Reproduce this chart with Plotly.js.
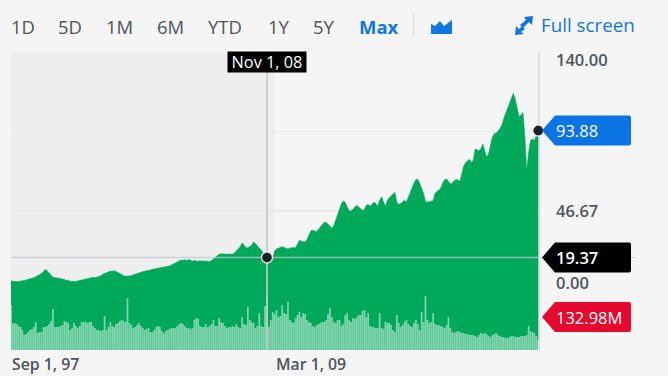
<!DOCTYPE html>
<html><head><meta charset="utf-8">
<script src="https://cdn.plot.ly/plotly-3.0.1.min.js"></script>
<style>html,body{margin:0;padding:0;background:#f5f5f6;overflow:hidden}#c{width:668px;height:376px}</style>
</head><body><div id="c"></div>
<script>
const startYear = 1997, startMonth = 9;
const prices = [
5.6,5.4,5.0,5.1,5.3,5.4,5.6,5.9,6.2,6.4, 6.8,7.2,7.5,8.2,8.6,9.2,10.0,11.2,12.3,11.6,
10.2,9.0,7.8,7.6,7.4,7.5,7.3,6.8,6.5,5.8, 6.0,5.4,5.2,5.0,5.2,5.6,5.9,6.2,6.6,6.8,
7.0,7.4,7.6,7.7,7.5,7.8,8.3,8.6,9.6,9.9, 10.4,10.8,11.5,11.2,11.6,11.3,10.6,10.0,9.2,8.6,
8.4,8.5,8.4,8.7,9.2,9.6,10.0,10.6,10.9,11.0, 11.3,11.4,11.8,12.0,12.4,12.6,12.7,13.0,13.4,13.3,
13.8,13.6,13.9,14.4,15,15.6,16.2,16.7,17.4,17.9, 17.7,18.0,17.6,18.1,17.8,17.2,17.6,17.3,17.0,17.5,
17.2,17.4,17.1,17.3,16.9,17.6,18.5,19.6,20.6,21.3, 21.5,21.3,21.0,21.2,21.4,21.3,21.2,22.0,23.0,24.4,
25.6,27.9,26.3,25.2,25,25.8,26.5,28.5,27.6,26.2, 25,23.6,22.6,21.0,19.37,17.5,16.8,18.5,23,24.4,
24.8,25.6,25.7,25.2,24.6,24.4,24.8,25.2,25,25.2, 27,29.4,29,28.4,28.4,30,32.5,35,35.4,34.8,
34.5,36,37.2,38.5,40,40,39,38,36.6,38, 41,45,48,51,52.5,51.8,49,47,46.6,47.5,
49,50,49,47.8,47,47.5,50,50.5,49.5,50.5, 52,51,49.5,53,55,52,49.5,53,54.5,55.5,
56.5,57.5,52,50.5,51,52,53,52,55,57.5, 60,63,65,65.2,63,60,57,52,52,52,
52.5,52.5,57,58,58.5,60,63,65,65.5,64, 62.5,63,64.5,65,65,64,68,73,75,76,
77,75,76.5,83,82.5,82,83,86,82,78.5, 80,85,90,92,92.5,93.5,95,97,101,104,
106,110,113,115.8,112,106,102,103,104.5,90, 70,81,88,89,88,91,93.88
];
const volumes = [
585,351,351,338,312,299,260,195,208,234, 260,273,299,364,221,234,234,299,299,312,
338,377,533,299,299,299,312,325,377,364, 351,260,286,351,312,286,312,364,364,364,
351,364,364,312,286,260,260,247,260,442, 260,299,364,312,299,338,351,377,390,377,
364,676,351,325,286,299,325,351,312,286, 260,273,286,234,234,260,299,312,299,247,
221,247,260,273,286,286,286,312,338,351, 338,312,286,286,273,286,390,416,403,312,
299,299,338,299,312,338,390,312,312,416, 364,351,312,286,299,299,312,299,338,299,
286,429,338,325,559,390,364,351,286,312, 481,312,299,572,715,299,390,494,468,520,
429,442,585,481,468,624,390,364,351,416, 455,494,429,481,468,390,364,351,312,299,
325,338,351,364,364,390,468,546,429,364, 351,390,390,312,338,455,481,390,364,416,
403,429,455,455,507,520,429,481,312,299, 299,286,286,481,286,273,364,351,351,325,
260,234,455,351,299,325,364,390,338,312, 299,351,390,338,260,494,364,702,390,351,
364,481,338,325,325,312,299,286,325,429, 286,234,221,234,247,234,221,221,208,208,
195,195,195,182,169,195,221,208,221,208, 182,169,195,208,221,195,182,169,169,156,
156,169,182,182,169,169,169,182,182,182, 195,312,247,234,221,182,132.98
];
const xLabels = ["Sep 1, 97","Mar 1, 09"];
const xLabelDates = ["1997-09-01","2009-03-01"];
const yTickVals = [0,46.67,93.33,140];
const yTickText = ["0.00","46.67","","140.00"];
const rangeButtons = ["1D","5D","1M","6M","YTD","1Y","5Y"];
const buttonLeft = [10,57,105,156,207,267,312];
const crossDate = "2008-11-01", crossPrice = 19.37;
const lastPrice = 93.88, lastVolume = "132.98M";

const dates = prices.map((_,i)=>{
  const m = startMonth-1+i, y = startYear+Math.floor(m/12), mm = (m%12)+1;
  return y+"-"+String(mm).padStart(2,"0")+"-01";
});
const W=668,H=376,L=11,R=539,T=52,B=350;
const px=x=>(x-L)/(R-L), py=y=>(B-y)/(B-T);
const yMin=-34.94, xEnd="2020-09-13";
const font="'Open Sans','Noto Sans',sans-serif";
const grey="#4f5459", blue="#0f77e0";
const GREEN="#00a85a";

const traces=[
 {x:dates,y:dates.map(()=>yMin),type:"scatter",mode:"lines",line:{width:0},hoverinfo:"skip",showlegend:false},
 {x:dates,y:prices,type:"scatter",mode:"lines",line:{color:GREEN,width:0.6},fill:"tonexty",fillcolor:GREEN,hoverinfo:"skip",showlegend:false},
 {x:dates,y:volumes,type:"bar",yaxis:"y2",width:28*864e5,marker:{color:"rgba(255,255,255,0.5)",line:{width:0}},hoverinfo:"skip",showlegend:false},
 {x:[crossDate,crossDate],y:[yMin,140],yaxis:"y3",type:"scatter",mode:"lines",line:{color:"rgba(196,197,207,0.85)",width:2},hoverinfo:"skip",showlegend:false},
 {x:[dates[0],xEnd],y:[crossPrice,crossPrice],yaxis:"y3",type:"scatter",mode:"lines",line:{color:"rgba(196,197,207,0.75)",width:1.5},hoverinfo:"skip",showlegend:false},
 {x:[crossDate,dates[dates.length-1]],y:[crossPrice,lastPrice],yaxis:"y3",type:"scatter",mode:"markers",cliponaxis:false,
  marker:{color:"#1d2024",size:11,line:{color:"rgba(255,255,255,0.75)",width:1.5}},hoverinfo:"skip",showlegend:false}
];

function tag(color,yc){
  return {type:"path",xref:"paper",yref:"paper",layer:"above",fillcolor:color,line:{width:0},
    path:`M ${px(542)} ${py(yc)} L ${px(555)} ${py(yc-15)} L ${px(629)} ${py(yc-15)} Q ${px(631)} ${py(yc-15)} ${px(631)} ${py(yc-13)} L ${px(631)} ${py(yc+13)} Q ${px(631)} ${py(yc+15)} ${px(629)} ${py(yc+15)} L ${px(555)} ${py(yc+15)} Z`};
}
const yOf=v=>B-(v-yMin)*(B-T)/(140-yMin);

const shapes=[
 {type:"rect",xref:"x",yref:"paper",x0:dates[0],x1:xLabelDates[1],y0:0,y1:1,fillcolor:"#eeeeef",line:{width:0},layer:"below"},
 {type:"line",xref:"paper",yref:"paper",x0:1,x1:1,y0:0,y1:1,line:{color:"#d6d7de",width:1.5},layer:"below"},
 {type:"line",xref:"paper",yref:"paper",x0:1,x1:px(636),y0:py(yOf(crossPrice)),y1:py(yOf(crossPrice)),line:{color:"#d0d1d8",width:1},layer:"below"},
 {type:"line",xref:"paper",yref:"paper",x0:px(413.5),x1:px(413.5),y0:py(13),y1:py(37),line:{color:"#dcdde1",width:1.5},layer:"below"},
 tag("#0b74e5",yOf(lastPrice)),
 tag("#000000",yOf(crossPrice)),
 tag("#e5092f",317),
 {type:"path",xref:"paper",yref:"paper",fillcolor:blue,line:{width:0},
  path:`M ${px(431)} ${py(34)} L ${px(431)} ${py(24)} L ${px(435)} ${py(26)} L ${px(440)} ${py(21)} L ${px(444)} ${py(26)} L ${px(452)} ${py(20)} L ${px(452)} ${py(34)} Z`},
 {type:"path",xref:"paper",yref:"paper",fillcolor:blue,line:{width:0},
  path:`M ${px(524)} ${py(17)} L ${px(533)} ${py(16)} L ${px(532)} ${py(25)} L ${px(529)} ${py(22)} L ${px(523)} ${py(28)} L ${px(520)} ${py(25)} L ${px(526)} ${py(20)} Z`},
 {type:"path",xref:"paper",yref:"paper",fillcolor:blue,line:{width:0},
  path:`M ${px(524)} ${py(34)} L ${px(515)} ${py(35)} L ${px(516)} ${py(26)} L ${px(519)} ${py(29)} L ${px(522)} ${py(26)} L ${px(525)} ${py(29)} L ${px(521)} ${py(32)} Z`}
];

const ann=(o)=>Object.assign({showarrow:false,xanchor:"left",yanchor:"middle",xref:"paper",yref:"paper",borderpad:0},o);
const annotations=[];
rangeButtons.forEach((t,i)=>annotations.push(ann({x:px(buttonLeft[i]),y:py(26),text:t,font:{family:font,size:18.5,color:grey}})));
annotations.push(ann({x:px(358),y:py(26),text:"<b>Max</b>",font:{family:font,size:18.5,color:blue}}));
annotations.push(ann({x:px(540),y:py(25),text:"Full screen",font:{family:font,size:18.8,color:blue}}));
xLabels.forEach((t,i)=>annotations.push(ann({xref:"x",x:xLabelDates[i],y:py(364),text:t,font:{family:font,size:15.8,color:grey,weight:600}})));
annotations.push(ann({xref:"x",x:crossDate,xanchor:"center",y:py(62),text:"Nov 1, 08",bgcolor:"#000",width:78,height:20,font:{family:font,size:16.3,color:"#fff"}}));
[[140,60],[46.67,210],[0,282]].forEach(([v,y])=>{
  annotations.push(ann({x:px(555),y:py(y),text:yTickText[yTickVals.indexOf(v)],font:{family:font,size:16.5,color:grey,weight:600}}));
});
annotations.push(ann({x:px(555),yref:"y",y:lastPrice,text:lastPrice.toFixed(2),font:{family:font,size:16.5,color:"#fff"}}));
annotations.push(ann({x:px(555),yref:"y",y:crossPrice,text:crossPrice.toFixed(2),font:{family:font,size:16.5,color:"#fff",weight:600}}));
annotations.push(ann({x:px(555),y:py(317),text:lastVolume,font:{family:font,size:16.5,color:"#fff"}}));

const layout={
 width:W,height:H,autosize:false,
 margin:{l:L,r:W-R,t:T,b:H-B,pad:0},
 paper_bgcolor:"#f5f5f6",plot_bgcolor:"rgba(0,0,0,0)",showlegend:false,
 barmode:"overlay",
 xaxis:{type:"date",range:[dates[0],xEnd],showgrid:false,zeroline:false,showticklabels:false,ticks:"",showline:false,fixedrange:true},
 yaxis:{range:[yMin,140],tickvals:yTickVals,showticklabels:false,ticks:"",gridcolor:"#e9e9ec",gridwidth:1.5,zeroline:false,showline:false,fixedrange:true},
 yaxis2:{overlaying:"y",range:[0,3874],visible:false,fixedrange:true},
 yaxis3:{overlaying:"y",range:[yMin,140],visible:false,fixedrange:true},
 shapes,annotations
};
Plotly.newPlot("c",traces,layout,{displayModeBar:false,staticPlot:true});
</script></body></html>
